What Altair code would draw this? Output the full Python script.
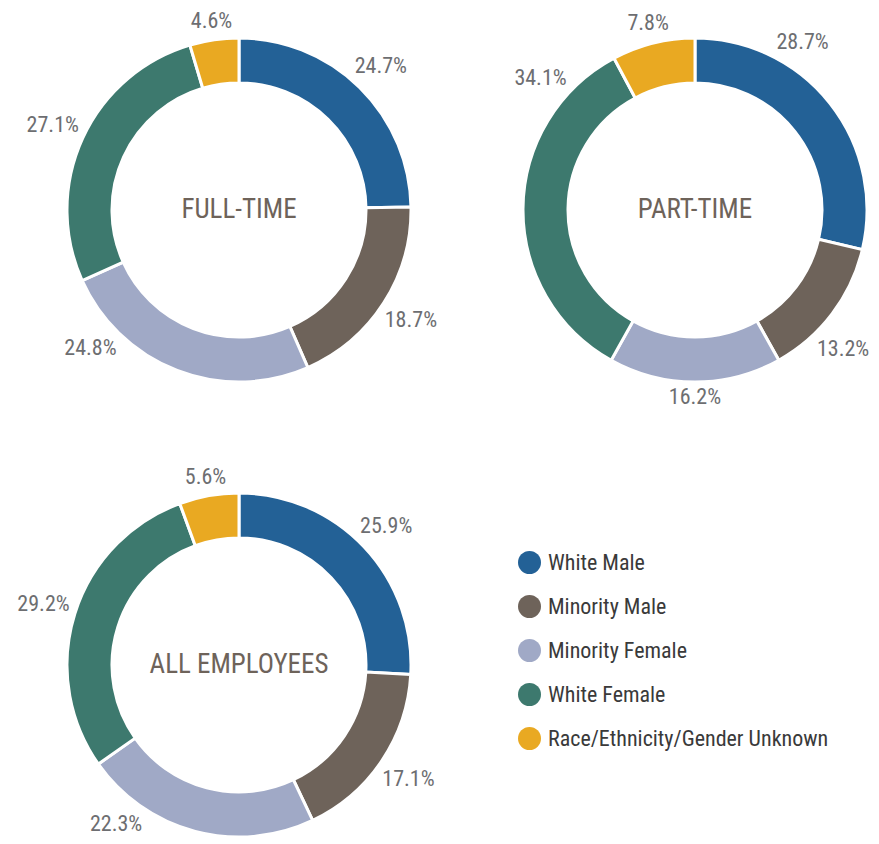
import math
import altair as alt
import pandas as pd

# ---- data ----
categories = ["White Male", "Minority Male", "Minority Female", "White Female",
              "Race/Ethnicity/Gender Unknown"]
colors = ["#236196", "#6e635a", "#a0a9c6", "#3d796e", "#e9a922"]
panels = ["FULL-TIME", "PART-TIME", "ALL EMPLOYEES"]
full_time = [24.7, 18.7, 24.8, 27.1, 4.6]
part_time = [28.7, 13.2, 16.2, 34.1, 7.8]
all_employees = [25.9, 17.1, 22.3, 29.2, 5.6]
series = {"FULL-TIME": full_time, "PART-TIME": part_time, "ALL EMPLOYEES": all_employees}

# ---- layout / style (not data) ----
FONT = "Liberation Sans Narrow, Roboto Condensed, DejaVu Sans Condensed, sans-serif"
CENTERS = {"FULL-TIME": (231, 202), "PART-TIME": (687, 202), "ALL EMPLOYEES": (231, 657)}
OUTER_R, INNER_R = 172, 127
# label gap from ring: text box edge kept ~a fixed distance from the ring
LABEL_BASE_R, LABEL_HALF_W, LABEL_HALF_H = 177, 26, 10
# hand placement of a few labels in the original, as angular nudges (degrees)
LABEL_NUDGE_DEG = {("FULL-TIME", "Minority Female"): 26,
                   ("PART-TIME", "White Male"): -19,
                   ("PART-TIME", "Minority Male"): 6,
                   ("PART-TIME", "White Female"): 40,
                   ("ALL EMPLOYEES", "Minority Female"): 23}

rows = []
for p in panels:
    vals = series[p]
    total = sum(vals)
    cum = 0.0
    for c, v in zip(categories, vals):
        t0 = cum / total
        cum += v
        t1 = cum / total
        tm = (t0 + t1) / 2 + LABEL_NUDGE_DEG.get((p, c), 0) / 360.0
        a = tm * 2 * math.pi
        lr = LABEL_BASE_R + LABEL_HALF_W * abs(math.sin(a)) + LABEL_HALF_H * abs(math.cos(a))
        rows.append({"panel": p, "category": c, "value": v, "t0": t0, "t1": t1,
                     "tm": tm, "lr": lr, "label": f"{v:.1f}%"})
df = pd.DataFrame(rows)
df_panels = pd.DataFrame({"panel": panels})

theta_scale = alt.Scale(domain=[0, 1], range=[0, 6.283185307179586])
color_scale = alt.Scale(domain=categories, range=colors)
legend = alt.Legend(title=None, orient="none", legendX=510, legendY=543,
                    symbolType="circle", symbolSize=529, symbolStrokeWidth=0,
                    symbolOpacity=1, labelFontSize=22, labelFont=FONT,
                    labelColor="#3a3a3a", labelLimit=400, rowPadding=21,
                    labelOffset=7, padding=0)

layers = []
for p in panels:
    cx, cy = CENTERS[p]
    base = alt.Chart(df).transform_filter(alt.datum.panel == p)
    arc = base.mark_arc(outerRadius=OUTER_R, innerRadius=INNER_R, stroke="white",
                        strokeWidth=3).encode(
        theta=alt.Theta("t0:Q", scale=theta_scale, stack=False),
        theta2="t1:Q",
        color=alt.Color("category:N", scale=color_scale, legend=legend),
        x=alt.value(cx), y=alt.value(cy),
    )
    lab = base.mark_text(fontSize=22, font=FONT, color="#6d6e71",
                         align="center", baseline="middle").encode(
        theta=alt.Theta("tm:Q", scale=theta_scale, stack=False),
        radius=alt.Radius("lr:Q", scale=None, stack=False),
        text="label:N",
        x=alt.value(cx), y=alt.value(cy),
    )
    center = alt.Chart(df_panels).transform_filter(alt.datum.panel == p).mark_text(
        fontSize=27, font=FONT, color="#6e635a", align="center", baseline="middle"
    ).encode(text="panel:N", x=alt.value(cx), y=alt.value(cy))
    layers += [arc, lab, center]

chart = alt.layer(*layers).properties(
    width=863, height=828, padding=0, autosize="none", background="white"
).configure_view(strokeWidth=0)

chart.save("out.html", embed_options={"renderer": "svg", "actions": False})
